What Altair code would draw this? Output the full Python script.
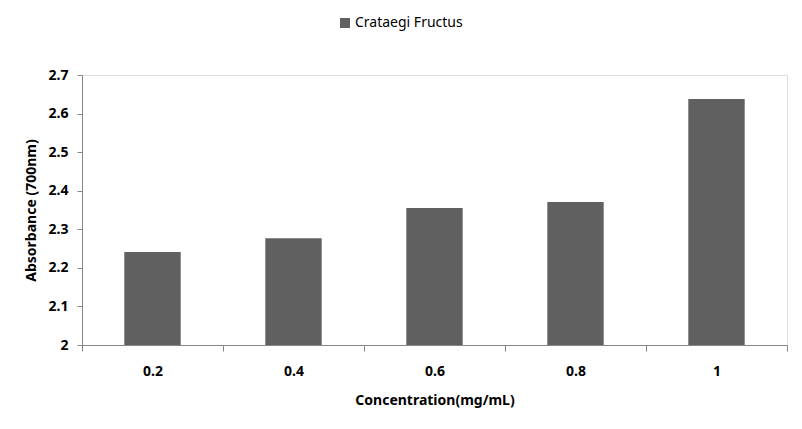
import altair as alt
import pandas as pd

concentrations = ["0.2", "0.4", "0.6", "0.8", "1"]
absorbance = [2.241, 2.277, 2.355, 2.371, 2.638]
series = ["Crataegi Fructus"] * 5

df = pd.DataFrame({"conc": concentrations, "abs": absorbance, "series": series})

FONT = "Noto Sans"

chart = alt.Chart(df).mark_bar(color="#606060", width=alt.RelativeBandSize(0.4)).encode(
    x=alt.X("conc:N", sort=concentrations,
            scale=alt.Scale(paddingInner=0, paddingOuter=0),
            axis=alt.Axis(title="Concentration(mg/mL)", labelAngle=0, tickBand="extent",
                          domainColor="#868686", tickColor="#868686", tickSize=6,
                          labelFont=FONT, labelFontSize=14, labelFontWeight="bold",
                          labelColor="black", labelPadding=13,
                          titleFont=FONT, titleFontSize=14, titleFontWeight="bold",
                          titleColor="black", titlePadding=15)),
    y=alt.Y("abs:Q", scale=alt.Scale(domain=[2, 2.7], zero=False, nice=False),
            axis=alt.Axis(title="Absorbance (700nm)", values=[2, 2.1, 2.2, 2.3, 2.4, 2.5, 2.6, 2.7],
                          format="~g", grid=False,
                          domainColor="#868686", tickColor="#868686", tickSize=5,
                          labelFont=FONT, labelFontSize=14, labelFontWeight="bold",
                          labelColor="black", labelPadding=9,
                          titleFont=FONT, titleFontSize=14, titleFontWeight="bold",
                          titleColor="black", titlePadding=10)),
    y2=alt.datum(2),
    color=alt.Color("series:N", scale=alt.Scale(range=["#606060"]),
                    legend=alt.Legend(title=None, orient="none", legendX=256, legendY=-59,
                                      symbolType="square", symbolSize=100,
                                      symbolStrokeWidth=0, labelOffset=3,
                                      labelFont=FONT, labelFontSize=14, labelColor="black")),
).properties(
    width=705, height=270,
    autosize=alt.AutoSizeParams(type="none"),
    padding={"left": 82, "top": 75, "right": 15, "bottom": 84},
).configure_view(stroke=None).configure(background="white")

chart.save("out.html", embed_options={"renderer": "svg", "actions": False})
